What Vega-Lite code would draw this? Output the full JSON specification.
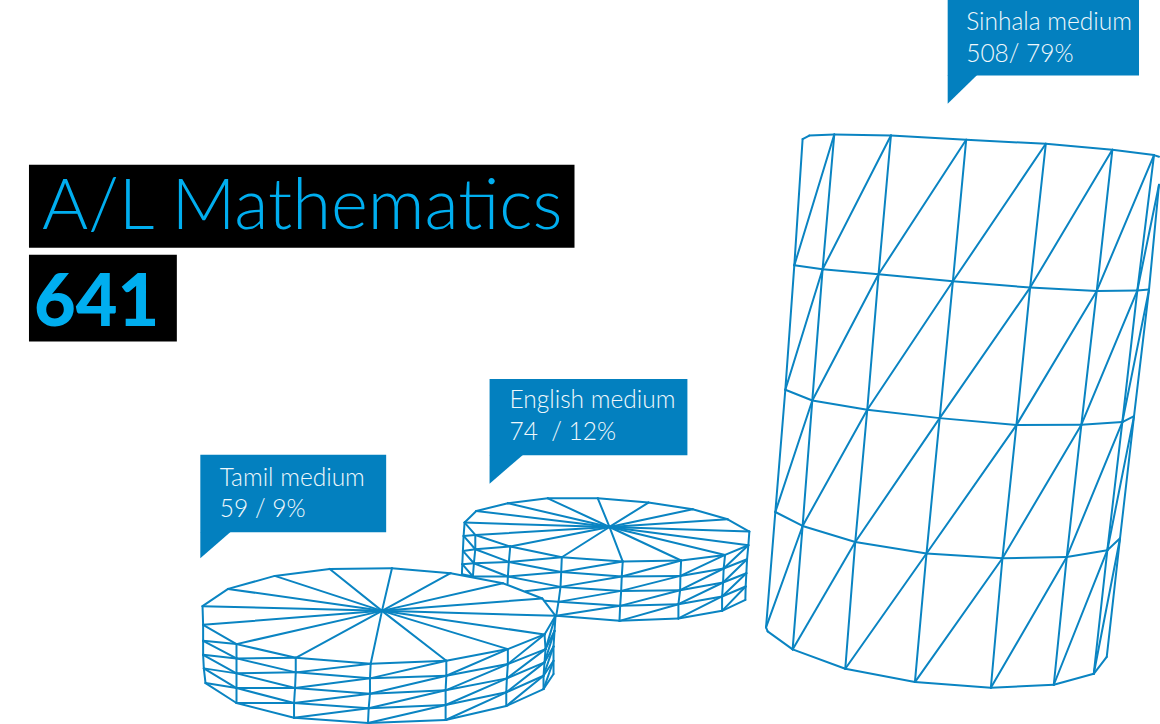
{"$schema":"https://vega.github.io/schema/vega-lite/v6.json","width":1160,"height":724,"autosize":{"type":"fit","contains":"padding"},"padding":0,"background":"white","view":{"stroke":null},
"datasets":{
"tamil":[
{"x":202.7,"y":607,"x2":228.3,"y2":589.7},{"x":228.3,"y":589.7,"x2":275,"y2":576.7},{"x":275,"y":576.7,"x2":330,"y2":569.7},{"x":330,"y":569.7,"x2":392.3,"y2":569},{"x":392.3,"y":569,"x2":451,"y2":574},{"x":451,"y":574,"x2":503.3,"y2":584},{"x":503.3,"y":584,"x2":542.7,"y2":599.3},{"x":542.7,"y":599.3,"x2":556,"y2":616.7},{"x":556,"y":616.7,"x2":545,"y2":635.3},{"x":545,"y":635.3,"x2":508.3,"y2":650},{"x":508.3,"y":650,"x2":446.7,"y2":661.7},{"x":446.7,"y":661.7,"x2":371,"y2":664.7},{"x":371,"y":664.7,"x2":296,"y2":658.7},{"x":296,"y":658.7,"x2":236.7,"y2":645},{"x":236.7,"y":645,"x2":203.3,"y2":625.7},{"x":203.3,"y":625.7,"x2":202.7,"y2":607},
{"x":382.3,"y":611.7,"x2":202.7,"y2":607},{"x":382.3,"y":611.7,"x2":228.3,"y2":589.7},{"x":382.3,"y":611.7,"x2":275,"y2":576.7},{"x":382.3,"y":611.7,"x2":330,"y2":569.7},{"x":382.3,"y":611.7,"x2":392.3,"y2":569},{"x":382.3,"y":611.7,"x2":451,"y2":574},{"x":382.3,"y":611.7,"x2":503.3,"y2":584},{"x":382.3,"y":611.7,"x2":542.7,"y2":599.3},{"x":382.3,"y":611.7,"x2":556,"y2":616.7},{"x":382.3,"y":611.7,"x2":545,"y2":635.3},{"x":382.3,"y":611.7,"x2":508.3,"y2":650},{"x":382.3,"y":611.7,"x2":446.7,"y2":661.7},{"x":382.3,"y":611.7,"x2":371,"y2":664.7},{"x":382.3,"y":611.7,"x2":296,"y2":658.7},{"x":382.3,"y":611.7,"x2":236.7,"y2":645},{"x":382.3,"y":611.7,"x2":203.3,"y2":625.7},
{"x":203.3,"y":641.7,"x2":236.7,"y2":659.3},{"x":236.7,"y":659.3,"x2":296,"y2":673.3},{"x":296,"y":673.3,"x2":370.3,"y2":679.3},{"x":370.3,"y":679.3,"x2":446.7,"y2":676.7},{"x":446.7,"y":676.7,"x2":508.3,"y2":665},{"x":508.3,"y":665,"x2":546,"y2":650},{"x":546,"y":650,"x2":555,"y2":631.7},
{"x":203.3,"y":655.7,"x2":236.7,"y2":674.3},{"x":236.7,"y":674.3,"x2":295.3,"y2":689},{"x":295.3,"y":689,"x2":370.3,"y2":694.7},{"x":370.3,"y":694.7,"x2":446,"y2":691.3},{"x":446,"y":691.3,"x2":507.3,"y2":679.3},{"x":507.3,"y":679.3,"x2":545,"y2":663.3},{"x":545,"y":663.3,"x2":554,"y2":647.3},
{"x":204,"y":669.3,"x2":236.7,"y2":689},{"x":236.7,"y":689,"x2":294.3,"y2":704},{"x":294.3,"y":704,"x2":369,"y2":709.3},{"x":369,"y":709.3,"x2":446,"y2":706},{"x":446,"y":706,"x2":506.7,"y2":693.3},{"x":506.7,"y":693.3,"x2":544,"y2":676.7},{"x":544,"y":676.7,"x2":554,"y2":661.7},
{"x":205.7,"y":684,"x2":236.7,"y2":704},{"x":236.7,"y":704,"x2":294.3,"y2":718.7},{"x":294.3,"y":718.7,"x2":368.3,"y2":724},{"x":368.3,"y":724,"x2":446,"y2":721},{"x":446,"y":721,"x2":506.7,"y2":707},{"x":506.7,"y":707,"x2":544,"y2":690},{"x":544,"y":690,"x2":554,"y2":675},
{"x":203.3,"y":625.7,"x2":203.3,"y2":641.7},{"x":203.3,"y":641.7,"x2":203.3,"y2":655.7},{"x":203.3,"y":655.7,"x2":204,"y2":669.3},{"x":204,"y":669.3,"x2":205.7,"y2":684},
{"x":236.7,"y":645,"x2":236.7,"y2":704},{"x":296,"y":658.7,"x2":296,"y2":673.3},{"x":296,"y":673.3,"x2":295.3,"y2":689},{"x":295.3,"y":689,"x2":294.3,"y2":704},{"x":294.3,"y":704,"x2":294.3,"y2":718.7},
{"x":371,"y":664.7,"x2":370.3,"y2":679.3},{"x":370.3,"y":679.3,"x2":370.3,"y2":694.7},{"x":370.3,"y":694.7,"x2":369,"y2":709.3},{"x":369,"y":709.3,"x2":368.3,"y2":724},
{"x":446.7,"y":661.7,"x2":446.7,"y2":676.7},{"x":446.7,"y":676.7,"x2":446,"y2":691.3},{"x":446,"y":691.3,"x2":446,"y2":721},
{"x":508.3,"y":650,"x2":508.3,"y2":665},{"x":508.3,"y":665,"x2":507.3,"y2":679.3},{"x":507.3,"y":679.3,"x2":506.7,"y2":693.3},{"x":506.7,"y":693.3,"x2":506.7,"y2":707},
{"x":545,"y":635.3,"x2":546,"y2":650},{"x":546,"y":650,"x2":545,"y2":663.3},{"x":545,"y":663.3,"x2":544,"y2":676.7},{"x":544,"y":676.7,"x2":544,"y2":690},
{"x":556,"y":616.7,"x2":555,"y2":631.7},{"x":555,"y":631.7,"x2":554,"y2":647.3},{"x":554,"y":647.3,"x2":554,"y2":675},
{"x":236.7,"y":645,"x2":203.3,"y2":641.7},{"x":296,"y":658.7,"x2":236.7,"y2":659.3},{"x":371,"y":664.7,"x2":296,"y2":673.3},{"x":446.7,"y":661.7,"x2":370.3,"y2":679.3},{"x":508.3,"y":650,"x2":446.7,"y2":676.7},{"x":545,"y":635.3,"x2":508.3,"y2":665},{"x":556,"y":616.7,"x2":546,"y2":650},
{"x":236.7,"y":659.3,"x2":203.3,"y2":655.7},{"x":296,"y":673.3,"x2":236.7,"y2":674.3},{"x":370.3,"y":679.3,"x2":295.3,"y2":689},{"x":446.7,"y":676.7,"x2":370.3,"y2":694.7},{"x":508.3,"y":665,"x2":446,"y2":691.3},{"x":546,"y":650,"x2":507.3,"y2":679.3},{"x":555,"y":631.7,"x2":545,"y2":663.3},
{"x":236.7,"y":674.3,"x2":204,"y2":669.3},{"x":295.3,"y":689,"x2":236.7,"y2":689},{"x":370.3,"y":694.7,"x2":294.3,"y2":704},{"x":446,"y":691.3,"x2":369,"y2":709.3},{"x":507.3,"y":679.3,"x2":446,"y2":706},{"x":545,"y":663.3,"x2":506.7,"y2":693.3},{"x":554,"y":647.3,"x2":544,"y2":676.7},
{"x":236.7,"y":689,"x2":205.7,"y2":684},{"x":294.3,"y":704,"x2":236.7,"y2":704},{"x":369,"y":709.3,"x2":294.3,"y2":718.7},{"x":446,"y":706,"x2":368.3,"y2":724},{"x":506.7,"y":693.3,"x2":446,"y2":721},{"x":544,"y":676.7,"x2":506.7,"y2":707},{"x":554,"y":661.7,"x2":544,"y2":690}
],
"english":[
{"x":465,"y":523.3,"x2":476.7,"y2":511.7},{"x":476.7,"y":511.7,"x2":508.3,"y2":504},{"x":508.3,"y":504,"x2":548.3,"y2":499},{"x":548.3,"y":499,"x2":598.3,"y2":499},{"x":598.3,"y":499,"x2":649,"y2":503.3},{"x":649,"y":503.3,"x2":693.3,"y2":510},{"x":693.3,"y":510,"x2":728.3,"y2":520},{"x":728.3,"y":520,"x2":750,"y2":532.3},{"x":750,"y":532.3,"x2":749,"y2":546},{"x":749,"y":546,"x2":725.7,"y2":555.7},{"x":725.7,"y":555.7,"x2":681.7,"y2":561.3},{"x":681.7,"y":561.3,"x2":623.3,"y2":562.3},{"x":623.3,"y":562.3,"x2":562.3,"y2":558},{"x":562.3,"y":558,"x2":510.7,"y2":547.3},{"x":510.7,"y":547.3,"x2":475.7,"y2":535.7},{"x":475.7,"y":535.7,"x2":465,"y2":523.3},
{"x":610,"y":527.7,"x2":465,"y2":523.3},{"x":610,"y":527.7,"x2":476.7,"y2":511.7},{"x":610,"y":527.7,"x2":508.3,"y2":504},{"x":610,"y":527.7,"x2":548.3,"y2":499},{"x":610,"y":527.7,"x2":598.3,"y2":499},{"x":610,"y":527.7,"x2":649,"y2":503.3},{"x":610,"y":527.7,"x2":693.3,"y2":510},{"x":610,"y":527.7,"x2":728.3,"y2":520},{"x":610,"y":527.7,"x2":750,"y2":532.3},{"x":610,"y":527.7,"x2":749,"y2":546},{"x":610,"y":527.7,"x2":725.7,"y2":555.7},{"x":610,"y":527.7,"x2":681.7,"y2":561.3},{"x":610,"y":527.7,"x2":623.3,"y2":562.3},{"x":610,"y":527.7,"x2":562.3,"y2":558},{"x":610,"y":527.7,"x2":510.7,"y2":547.3},{"x":610,"y":527.7,"x2":475.7,"y2":535.7},
{"x":465,"y":523.3,"x2":464,"y2":536.7},{"x":464,"y":536.7,"x2":463.3,"y2":551.7},{"x":463.3,"y":551.7,"x2":462.7,"y2":565},{"x":462.7,"y":565,"x2":462.3,"y2":575},
{"x":475.7,"y":535.7,"x2":475.7,"y2":550},{"x":475.7,"y":550,"x2":474.3,"y2":564},{"x":474.3,"y":564,"x2":473.3,"y2":577.3},
{"x":510.7,"y":547.3,"x2":509.3,"y2":562.7},{"x":509.3,"y":562.7,"x2":508.3,"y2":577.3},{"x":508.3,"y":577.3,"x2":508,"y2":585},
{"x":562.3,"y":558,"x2":561.7,"y2":572.7},{"x":561.7,"y":572.7,"x2":561,"y2":587.7},{"x":561,"y":587.7,"x2":559,"y2":602.7},{"x":559,"y":602.7,"x2":556.7,"y2":616.7},
{"x":623.3,"y":562.3,"x2":622.3,"y2":577.3},{"x":622.3,"y":577.3,"x2":621.7,"y2":591.7},{"x":621.7,"y":591.7,"x2":620.7,"y2":606.7},{"x":620.7,"y":606.7,"x2":620,"y2":621.7},
{"x":681.7,"y":561.3,"x2":681,"y2":576.7},{"x":681,"y":576.7,"x2":680.7,"y2":591},{"x":680.7,"y":591,"x2":679,"y2":605},{"x":679,"y":605,"x2":679,"y2":619.3},
{"x":725.7,"y":555.7,"x2":724.3,"y2":569.3},{"x":724.3,"y":569.3,"x2":723.7,"y2":583.3},{"x":723.7,"y":583.3,"x2":722.7,"y2":597.3},{"x":722.7,"y":597.3,"x2":722.7,"y2":611.7},
{"x":749,"y":546,"x2":747.7,"y2":560},{"x":747.7,"y":560,"x2":747,"y2":574},{"x":747,"y":574,"x2":746.3,"y2":587.3},{"x":746.3,"y":587.3,"x2":746,"y2":600.7},
{"x":464,"y":536.7,"x2":475.7,"y2":550},{"x":475.7,"y":550,"x2":509.3,"y2":562.7},{"x":509.3,"y":562.7,"x2":561.7,"y2":572.7},{"x":561.7,"y":572.7,"x2":622.3,"y2":577.3},{"x":622.3,"y":577.3,"x2":681,"y2":576.7},{"x":681,"y":576.7,"x2":724.3,"y2":569.3},{"x":724.3,"y":569.3,"x2":747.7,"y2":560},
{"x":463.3,"y":551.7,"x2":474.3,"y2":564},{"x":474.3,"y":564,"x2":508.3,"y2":577.3},{"x":508.3,"y":577.3,"x2":561,"y2":587.7},{"x":561,"y":587.7,"x2":621.7,"y2":591.7},{"x":621.7,"y":591.7,"x2":680.7,"y2":591},{"x":680.7,"y":591,"x2":723.7,"y2":583.3},{"x":723.7,"y":583.3,"x2":747,"y2":574},
{"x":462.7,"y":565,"x2":473.3,"y2":577.3},{"x":545,"y":601.5,"x2":559,"y2":602.7},{"x":559,"y":602.7,"x2":620.7,"y2":606.7},{"x":620.7,"y":606.7,"x2":679,"y2":605},{"x":679,"y":605,"x2":722.7,"y2":597.3},{"x":722.7,"y":597.3,"x2":746.3,"y2":587.3},
{"x":556.7,"y":616.7,"x2":620,"y2":621.7},{"x":620,"y":621.7,"x2":679,"y2":619.3},{"x":679,"y":619.3,"x2":722.7,"y2":611.7},{"x":722.7,"y":611.7,"x2":746,"y2":600.7},
{"x":475.7,"y":535.7,"x2":464,"y2":536.7},{"x":510.7,"y":547.3,"x2":475.7,"y2":550},{"x":562.3,"y":558,"x2":509.3,"y2":562.7},{"x":623.3,"y":562.3,"x2":561.7,"y2":572.7},{"x":681.7,"y":561.3,"x2":622.3,"y2":577.3},{"x":725.7,"y":555.7,"x2":681,"y2":576.7},{"x":749,"y":546,"x2":724.3,"y2":569.3},
{"x":475.7,"y":550,"x2":463.3,"y2":551.7},{"x":509.3,"y":562.7,"x2":474.3,"y2":564},{"x":561.7,"y":572.7,"x2":508.3,"y2":577.3},{"x":622.3,"y":577.3,"x2":561,"y2":587.7},{"x":681,"y":576.7,"x2":621.7,"y2":591.7},{"x":724.3,"y":569.3,"x2":680.7,"y2":591},{"x":747.7,"y":560,"x2":723.7,"y2":583.3},
{"x":474.3,"y":564,"x2":462.7,"y2":565},{"x":508.3,"y":577.3,"x2":473.3,"y2":577.3},{"x":561,"y":587.7,"x2":526,"y2":592},{"x":621.7,"y":591.7,"x2":559,"y2":602.7},{"x":680.7,"y":591,"x2":620.7,"y2":606.7},{"x":723.7,"y":583.3,"x2":679,"y2":605},{"x":747,"y":574,"x2":722.7,"y2":597.3},
{"x":473.3,"y":577.3,"x2":462.3,"y2":575},{"x":620.7,"y":606.7,"x2":556.7,"y2":616.7},{"x":679,"y":605,"x2":620,"y2":621.7},{"x":722.7,"y":597.3,"x2":679,"y2":619.3},{"x":746.3,"y":587.3,"x2":722.7,"y2":611.7}
],
"sinhala":[
{"x":803.3,"y":139.3,"x2":810,"y2":135.7},{"x":810,"y":135.7,"x2":835,"y2":134.7},{"x":835,"y":134.7,"x2":891.7,"y2":135.7},{"x":891.7,"y":135.7,"x2":967,"y2":140},{"x":967,"y":140,"x2":1046.7,"y2":144},{"x":1046.7,"y":144,"x2":1113.3,"y2":150},{"x":1113.3,"y":150,"x2":1155,"y2":155.3},{"x":1155,"y":155.3,"x2":1160,"y2":157},
{"x":795,"y":265.7,"x2":823.3,"y2":269.7},{"x":823.3,"y":269.7,"x2":879.3,"y2":274.7},{"x":879.3,"y":274.7,"x2":953.7,"y2":281.7},{"x":953.7,"y":281.7,"x2":1031,"y2":288},{"x":1031,"y":288,"x2":1097.7,"y2":291.3},{"x":1097.7,"y":291.3,"x2":1138.3,"y2":291},{"x":1138.3,"y":291,"x2":1150,"y2":290},
{"x":786,"y":390.3,"x2":813,"y2":401},{"x":813,"y":401,"x2":868,"y2":410.3},{"x":868,"y":410.3,"x2":940.5,"y2":418.7},{"x":940.5,"y":418.7,"x2":1017.3,"y2":425.7},{"x":1017.3,"y":425.7,"x2":1082.3,"y2":425.3},{"x":1082.3,"y":425.3,"x2":1123.3,"y2":422.7},{"x":1123.3,"y":422.7,"x2":1135,"y2":416.7},
{"x":776,"y":512.7,"x2":803.3,"y2":526.7},{"x":803.3,"y":526.7,"x2":856,"y2":542.7},{"x":856,"y":542.7,"x2":927.3,"y2":554.3},{"x":927.3,"y":554.3,"x2":1003.3,"y2":559},{"x":1003.3,"y":559,"x2":1067.7,"y2":557.7},{"x":1067.7,"y":557.7,"x2":1108.3,"y2":551},{"x":1108.3,"y":551,"x2":1121,"y2":539},
{"x":766.7,"y":628.3,"x2":768.3,"y2":632.3},{"x":768.3,"y":632.3,"x2":793.3,"y2":650.3},{"x":793.3,"y":650.3,"x2":846,"y2":669.7},{"x":846,"y":669.7,"x2":915.7,"y2":683},{"x":915.7,"y":683,"x2":991.7,"y2":688.7},{"x":991.7,"y":688.7,"x2":1054.7,"y2":685.7},{"x":1054.7,"y":685.7,"x2":1094.7,"y2":674.7},{"x":1094.7,"y":674.7,"x2":1107.7,"y2":657.7},
{"x":803.3,"y":139.3,"x2":795,"y2":265.7},{"x":795,"y":265.7,"x2":786,"y2":390.3},{"x":786,"y":390.3,"x2":776,"y2":512.7},{"x":776,"y":512.7,"x2":766.7,"y2":628.3},
{"x":835,"y":134.7,"x2":823.3,"y2":269.7},{"x":823.3,"y":269.7,"x2":813,"y2":401},{"x":813,"y":401,"x2":803.3,"y2":526.7},{"x":803.3,"y":526.7,"x2":793.3,"y2":650.3},
{"x":891.7,"y":135.7,"x2":879.3,"y2":274.7},{"x":879.3,"y":274.7,"x2":868,"y2":410.3},{"x":868,"y":410.3,"x2":856,"y2":542.7},{"x":856,"y":542.7,"x2":846,"y2":669.7},
{"x":967,"y":140,"x2":953.7,"y2":281.7},{"x":953.7,"y":281.7,"x2":940.5,"y2":418.7},{"x":940.5,"y":418.7,"x2":927.3,"y2":554.3},{"x":927.3,"y":554.3,"x2":915.7,"y2":683},
{"x":1046.7,"y":144,"x2":1031,"y2":288},{"x":1031,"y":288,"x2":1017.3,"y2":425.7},{"x":1017.3,"y":425.7,"x2":1003.3,"y2":559},{"x":1003.3,"y":559,"x2":991.7,"y2":688.7},
{"x":1113.3,"y":150,"x2":1097.7,"y2":291.3},{"x":1097.7,"y":291.3,"x2":1082.3,"y2":425.3},{"x":1082.3,"y":425.3,"x2":1067.7,"y2":557.7},{"x":1067.7,"y":557.7,"x2":1054.7,"y2":685.7},
{"x":1155,"y":155.3,"x2":1138.3,"y2":291},{"x":1138.3,"y":291,"x2":1123.3,"y2":422.7},{"x":1123.3,"y":422.7,"x2":1108.3,"y2":551},{"x":1108.3,"y":551,"x2":1094.7,"y2":674.7},
{"x":1160,"y":185,"x2":1150,"y2":290},{"x":1150,"y":290,"x2":1135,"y2":416.7},{"x":1135,"y":416.7,"x2":1121,"y2":539},{"x":1121,"y":539,"x2":1107.7,"y2":657.7},
{"x":835,"y":134.7,"x2":795,"y2":265.7},{"x":891.7,"y":135.7,"x2":823.3,"y2":269.7},{"x":967,"y":140,"x2":879.3,"y2":274.7},{"x":1046.7,"y":144,"x2":953.7,"y2":281.7},{"x":1113.3,"y":150,"x2":1031,"y2":288},{"x":1155,"y":155.3,"x2":1097.7,"y2":291.3},{"x":1160,"y":185,"x2":1138.3,"y2":291},
{"x":823.3,"y":269.7,"x2":786,"y2":390.3},{"x":879.3,"y":274.7,"x2":813,"y2":401},{"x":953.7,"y":281.7,"x2":868,"y2":410.3},{"x":1031,"y":288,"x2":940.5,"y2":418.7},{"x":1097.7,"y":291.3,"x2":1017.3,"y2":425.7},{"x":1138.3,"y":291,"x2":1082.3,"y2":425.3},{"x":1150,"y":290,"x2":1123.3,"y2":422.7},
{"x":813,"y":401,"x2":776,"y2":512.7},{"x":868,"y":410.3,"x2":803.3,"y2":526.7},{"x":940.5,"y":418.7,"x2":856,"y2":542.7},{"x":1017.3,"y":425.7,"x2":927.3,"y2":554.3},{"x":1082.3,"y":425.3,"x2":1003.3,"y2":559},{"x":1123.3,"y":422.7,"x2":1067.7,"y2":557.7},{"x":1135,"y":416.7,"x2":1108.3,"y2":551},
{"x":803.3,"y":526.7,"x2":766.7,"y2":628.3},{"x":856,"y":542.7,"x2":793.3,"y2":650.3},{"x":927.3,"y":554.3,"x2":846,"y2":669.7},{"x":1003.3,"y":559,"x2":915.7,"y2":683},{"x":1067.7,"y":557.7,"x2":991.7,"y2":688.7},{"x":1108.3,"y":551,"x2":1054.7,"y2":685.7},{"x":1121,"y":539,"x2":1094.7,"y2":674.7}
],
"titleBoxes":[{"x":29,"x2":575,"y":165,"y2":248},{"x":29,"x2":177,"y":255,"y2":342}],
"boxes":[{"m":"Sinhala medium","x":948.5,"x2":1140,"y":0,"y2":75.5},{"m":"English medium","x":490,"x2":688,"y":379.5,"y2":456},{"m":"Tamil medium","x":200.5,"x2":386.5,"y":455.5,"y2":533}],
"tails":[{"m":"Sinhala medium","x":948.5,"y":75,"y2":104},{"m":"Sinhala medium","x":978,"y":75,"y2":75},{"m":"English medium","x":490,"y":455.7,"y2":484.3},{"m":"English medium","x":523.3,"y":455.7,"y2":455.7},{"m":"Tamil medium","x":200.5,"y":532.7,"y2":559},{"m":"Tamil medium","x":230.7,"y":532.7,"y2":532.7}],
"labels":[{"t":"Sinhala medium","x":967,"y":30},{"t":"508/ 79%","x":967,"y":62},{"t":"English medium","x":510,"y":409},{"t":"74 \u00a0/ 12%","x":510,"y":441},{"t":"Tamil medium","x":220,"y":487},{"t":"59 / 9%","x":220,"y":518}]
},
"encoding":{},
"layer":[
{"data":{"name":"titleBoxes"},"mark":{"type":"rect","color":"#000000"},"encoding":{"x":{"field":"x","type":"quantitative","scale":{"domain":[0,1160],"nice":false,"zero":false},"axis":null},"x2":{"field":"x2"},"y":{"field":"y","type":"quantitative","scale":{"domain":[724,0],"nice":false,"zero":false},"axis":null},"y2":{"field":"y2"}}},
{"data":{"name":"boxes"},"mark":{"type":"rect","color":"#0380BF"},"encoding":{"x":{"field":"x","type":"quantitative"},"x2":{"field":"x2"},"y":{"field":"y","type":"quantitative"},"y2":{"field":"y2"}}},
{"data":{"name":"tails"},"mark":{"type":"area","color":"#0380BF","opacity":1},"encoding":{"x":{"field":"x","type":"quantitative"},"y":{"field":"y","type":"quantitative"},"y2":{"field":"y2"},"detail":{"field":"m"}}},
{"data":{"name":"english"},"mark":{"type":"rule","color":"#0A84C2","strokeWidth":2,"strokeCap":"round"},"encoding":{"x":{"field":"x","type":"quantitative"},"x2":{"field":"x2"},"y":{"field":"y","type":"quantitative"},"y2":{"field":"y2"}}},
{"data":{"name":"tamil"},"mark":{"type":"rule","color":"#0A84C2","strokeWidth":2,"strokeCap":"round"},"encoding":{"x":{"field":"x","type":"quantitative"},"x2":{"field":"x2"},"y":{"field":"y","type":"quantitative"},"y2":{"field":"y2"}}},
{"data":{"name":"sinhala"},"mark":{"type":"rule","color":"#0A84C2","strokeWidth":2,"strokeCap":"round"},"encoding":{"x":{"field":"x","type":"quantitative"},"x2":{"field":"x2"},"y":{"field":"y","type":"quantitative"},"y2":{"field":"y2"}}},
{"data":{"name":"labels"},"mark":{"type":"text","align":"left","baseline":"alphabetic","font":"Lato","fontWeight":300,"fontSize":24.5,"color":"#F0F8FC"},"encoding":{"x":{"field":"x","type":"quantitative"},"y":{"field":"y","type":"quantitative"},"text":{"field":"t"}}},
{"data":{"values":[{"t":"A/L Mathematics","x":42,"y":229}]},"mark":{"type":"text","align":"left","baseline":"alphabetic","font":"Lato","fontWeight":300,"fontSize":70.5,"color":"#00AEEF"},"encoding":{"x":{"field":"x","type":"quantitative"},"y":{"field":"y","type":"quantitative"},"text":{"field":"t"}}},
{"data":{"values":[{"t":"641","x":34,"y":326}]},"mark":{"type":"text","align":"left","baseline":"alphabetic","font":"Lato","fontWeight":900,"fontSize":72,"color":"#00AEEF"},"encoding":{"x":{"field":"x","type":"quantitative"},"y":{"field":"y","type":"quantitative"},"text":{"field":"t"}}}
]}
